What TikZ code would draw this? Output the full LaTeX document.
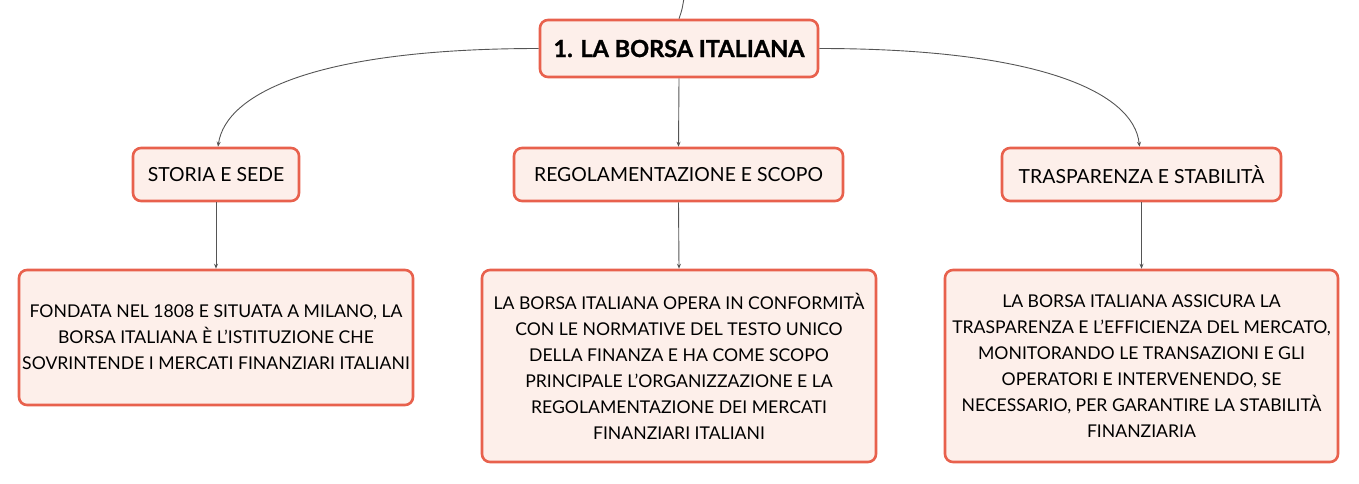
\documentclass[tikz,border=0pt]{standalone}
\usepackage{fontspec}
\setmainfont{Lato}[BoldFeatures={FakeBold=1.2}]
\usetikzlibrary{arrows.meta}
\definecolor{bordc}{HTML}{E8614D}
\definecolor{fillc}{HTML}{FDEFEA}
\definecolor{linec}{HTML}{555555}
\begin{document}
\begin{tikzpicture}[x=1pt,y=-1pt,
  box/.style={draw=bordc,fill=fillc,line width=2.6pt,rounded corners=8pt,inner sep=0pt,align=center,text=black},
  conn/.style={draw=linec,line width=0.9pt,-{Stealth[length=5pt,width=4pt]}},
  body/.style={font=\fontsize{17.6}{26}\selectfont},
  sub/.style={font=\fontsize{19.4}{22}\selectfont}]
\useasboundingbox (0,0) rectangle (1359,483);
\node[box,minimum width=278pt,minimum height=57pt,font=\fontsize{23.5}{26}\selectfont\bfseries] (root) at (679,48.5) {1. LA BORSA ITALIANA};
\node[box,sub,minimum width=166pt,minimum height=53pt] (s1) at (216,174.5) {STORIA E SEDE};
\node[box,sub,minimum width=329pt,minimum height=53pt] (s2) at (678.5,174.5) {REGOLAMENTAZIONE E SCOPO};
\node[box,sub,minimum width=279pt,minimum height=53pt] (s3) at (1141.5,174.5) {TRASPARENZA E STABILITÀ};
\node[box,body,minimum width=394pt,minimum height=135pt] (d1) at (216,337.5) {FONDATA NEL 1808 E SITUATA A MILANO, LA\\BORSA ITALIANA È L'ISTITUZIONE CHE\\SOVRINTENDE I MERCATI FINANZIARI ITALIANI};
\node[box,body,minimum width=394pt,minimum height=192pt] (d2) at (679,366) {LA BORSA ITALIANA OPERA IN CONFORMITÀ\\CON LE NORMATIVE DEL TESTO UNICO\\DELLA FINANZA E HA COME SCOPO\\PRINCIPALE L'ORGANIZZAZIONE E LA\\REGOLAMENTAZIONE DEI MERCATI\\FINANZIARI ITALIANI};
\node[box,body,minimum width=393pt,minimum height=192pt] (d3) at (1141.5,366) {LA BORSA ITALIANA ASSICURA LA\\TRASPARENZA E L'EFFICIENZA DEL MERCATO,\\MONITORANDO LE TRANSAZIONI E GLI\\OPERATORI E INTERVENENDO, SE\\NECESSARIO, PER GARANTIRE LA STABILITÀ\\FINANZIARIA};
\coordinate (top) at (684,-2);
\draw[draw=linec,line width=0.9pt] (top) .. controls (682,10) .. (root.north);
\draw[conn] (root.west) .. controls (320,48.5) and (226,92) .. ([xshift=2pt]s1.north);
\draw[conn] (root.east) .. controls (1038,48.5) and (1134,92) .. ([xshift=-2pt]s3.north);
\draw[conn] (root.south) -- (s2.north);
\draw[conn] (s1.south) -- (d1.north);
\draw[conn] (s2.south) -- (d2.north);
\draw[conn] (s3.south) -- (d3.north);
\end{tikzpicture}
\end{document}
